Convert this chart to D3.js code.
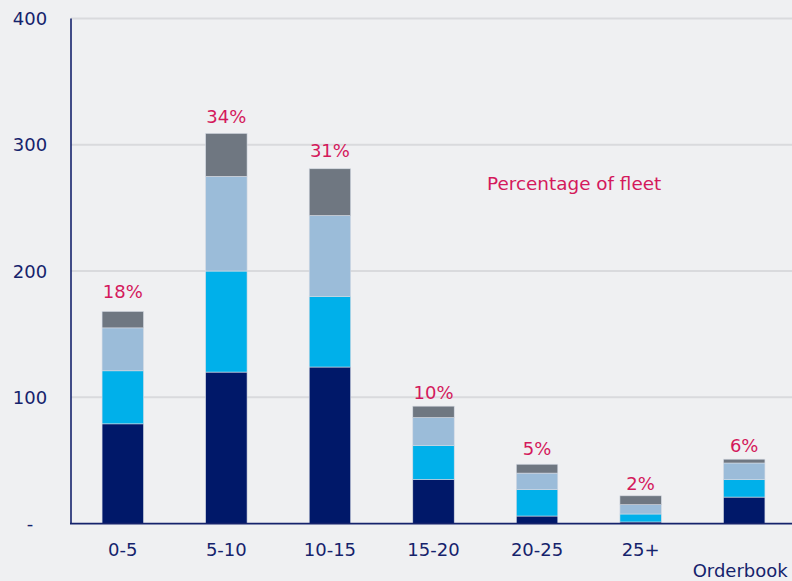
<!DOCTYPE html>
<html>
<head>
<meta charset="utf-8">
<script src="https://cdn.jsdelivr.net/npm/d3@7/dist/d3.min.js"></script>
<style>
  html, body { margin: 0; padding: 0; background: #eff0f2; }
  svg { display: block; }
  text { font-family: "DejaVu Sans", Verdana, sans-serif; }
</style>
</head>
<body>
<svg id="chart" width="792" height="581"></svg>
<script>
// ---- data ----
const categories = ["0-5", "5-10", "10-15", "15-20", "20-25", "25+", "Orderbook"];
const seriesNames = ["s1", "s2", "s3", "s4"];
const s1 = [79, 120, 124, 35, 6, 1.3, 21];       // navy
const s2 = [42, 80, 56, 27, 21, 6.3, 14];        // cyan
const s3 = [34, 75, 64, 22, 13, 7.4, 13];        // light blue
const s4 = [13, 34, 37, 9, 7, 7, 3];             // grey
const pctLabels = ["18%", "34%", "31%", "10%", "5%", "2%", "6%"];
const pctLabelValues = [179, 317, 290, 99, 54, 27, 57];
const yTicks = [0, 100, 200, 300, 400];
const yTickLabels = ["-", "100", "200", "300", "400"];
const annotation = "Percentage of fleet";

// ---- layout ----
const W = 792, H = 581;
const colors = ["#001869", "#00b0ea", "#9bbcd9", "#6f7781"];
const navy = "#15236c";
const pink = "#d4195c";

const svg = d3.select("#chart");
svg.append("rect").attr("width", W).attr("height", H).attr("fill", "#eff0f2");

const x = d3.scaleBand().domain(categories).range([71, 796]).paddingInner(0.6).paddingOuter(0.3);
const y = d3.scaleLinear().domain([0, 400]).range([523.6, 18.5]);

// gridlines
svg.append("g").selectAll("line").data(yTicks.filter(d => d > 0)).join("line")
  .attr("x1", 71).attr("x2", W)
  .attr("y1", d => y(d)).attr("y2", d => y(d))
  .attr("stroke", "#d9dadd").attr("stroke-width", 2);

// stacked data
const rows = categories.map((c, i) => ({ cat: c, s1: s1[i], s2: s2[i], s3: s3[i], s4: s4[i] }));
const stack = d3.stack().keys(seriesNames)(rows);

svg.append("g").selectAll("g").data(stack).join("g")
  .attr("fill", (d, i) => colors[i])
  .selectAll("rect").data(d => d).join("rect")
  .attr("x", d => x(d.data.cat))
  .attr("width", x.bandwidth())
  .attr("y", d => y(d[1]))
  .attr("height", d => y(d[0]) - y(d[1]))
  .attr("stroke", "#d5dae3").attr("stroke-width", 0.6);

// axes lines
svg.append("line").attr("x1", 71).attr("x2", 71).attr("y1", y(400)).attr("y2", y(0))
  .attr("stroke", navy).attr("stroke-width", 1.6);
svg.append("line").attr("x1", 70).attr("x2", W).attr("y1", y(0)).attr("y2", y(0))
  .attr("stroke", navy).attr("stroke-width", 1.8);

// y tick labels
svg.append("g").selectAll("text").data(yTicks).join("text")
  .attr("x", 30).attr("y", d => y(d)).attr("dy", "0.36em")
  .attr("text-anchor", "middle").attr("font-size", 18).attr("fill", navy)
  .text((d, i) => yTickLabels[i]);

// x category labels
svg.append("g").selectAll("text").data(categories).join("text")
  .attr("x", d => x(d) + x.bandwidth() / 2 + (d === "Orderbook" ? -4 : 0))
  .attr("y", d => d === "Orderbook" ? 577 : 556)
  .attr("text-anchor", "middle").attr("font-size", 18).attr("fill", navy)
  .text(d => d);

// percentage labels
svg.append("g").selectAll("text").data(categories).join("text")
  .attr("x", d => x(d) + x.bandwidth() / 2)
  .attr("y", (d, i) => y(pctLabelValues[i]))
  .attr("text-anchor", "middle").attr("font-size", 18).attr("fill", pink)
  .text((d, i) => pctLabels[i]);

// annotation
svg.append("text").attr("x", 487).attr("y", 190)
  .attr("font-size", 18.4).attr("fill", pink).text(annotation);
</script>
</body>
</html>
